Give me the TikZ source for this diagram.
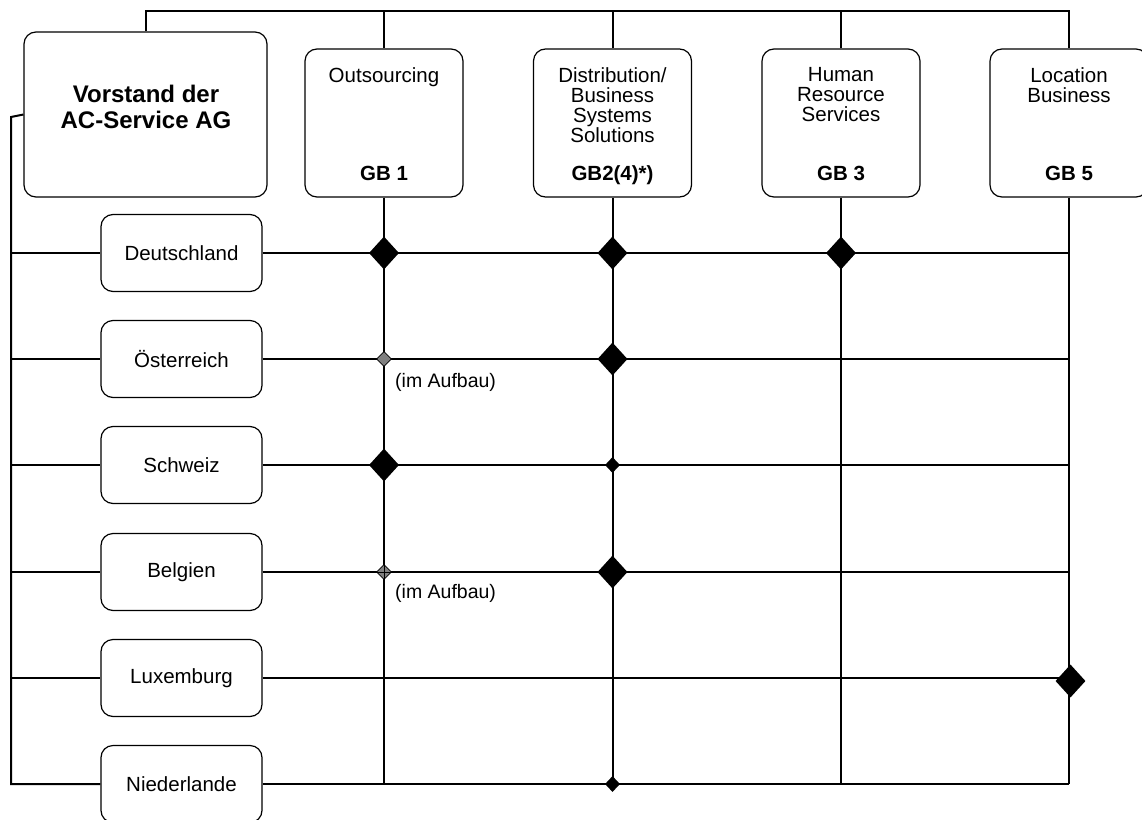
\documentclass[tikz,border=0pt]{standalone}
\usepackage{fontspec}
\setmainfont{Liberation Sans}
\usetikzlibrary{shapes.geometric}
\begin{document}
\begin{tikzpicture}[x=1pt,y=-1pt,
  box/.style={draw, rounded corners=12pt, line width=1.2pt, fill=white, align=center, inner sep=0pt},
  rowbox/.style={box, minimum width=161pt, minimum height=77pt, font=\fontsize{20.5}{20.5}\selectfont},
  colbox/.style={box, minimum width=158pt, minimum height=148pt},
  title/.style={anchor=north, inner sep=0pt, align=center, font=\fontsize{20.5}{20}\selectfont},
  gblabel/.style={anchor=base, inner sep=0pt, font=\fontsize{20.5}{20}\selectfont\bfseries},
  note/.style={anchor=west, inner sep=0pt, font=\fontsize{19.5}{20}\selectfont},
  conn/.style={line width=2pt},
  bigdia/.style={diamond, fill=black, inner sep=0pt, minimum width=30pt, minimum height=33pt},
  smalldia/.style={diamond, fill=black, inner sep=0pt, minimum width=15pt, minimum height=16pt},
  graydia/.style={diamond, fill=black!50, draw=black, line width=0.8pt, inner sep=0pt, minimum width=15pt, minimum height=15pt}]
\useasboundingbox (0,0) rectangle (1142,819);

% boxes
\node[box, minimum width=243pt, minimum height=165pt] (vor) at (145.5,114.5) {};
\node[anchor=center, inner sep=0pt, align=center, font=\fontsize{24}{26.5}\selectfont\bfseries] (vortext) at (146,107) {Vorstand der\\AC-Service AG};

\node[colbox] (c1) at (384,123) {};
\node[colbox] (c2) at (612.5,123) {};
\node[colbox] (c3) at (841,123) {};
\node[colbox] (c4) at (1069,123) {};

\node[title] (t1) at (384,67) {Outsourcing};
\node[title] (t2) at (612.5,67) {Distribution/\\Business\\Systems\\Solutions};
\node[title] (t3) at (841,67) {Human\\Resource\\Services};
\node[title] (t4) at (1069,67) {Location\\Business};

\node[gblabel] (g1) at (384,180) {GB 1};
\node[gblabel] (g2) at (612.5,180) {GB2(4)*)};
\node[gblabel] (g3) at (841,180) {GB 3};
\node[gblabel] (g4) at (1069,180) {GB 5};

\node[rowbox] (r1) at (181.5,253) {Deutschland};
\node[rowbox] (r2) at (181.5,359) {Österreich};
\node[rowbox] (r3) at (181.5,465) {Schweiz};
\node[rowbox] (r4) at (181.5,572) {Belgien};
\node[rowbox] (r5) at (181.5,678) {Luxemburg};
\node[rowbox] (r6) at (181.5,784) {Niederlande};

\coordinate (top) at (0,11);
\coordinate (L) at (11,117);

% top bus
\draw[conn] (vor.north) |- (c4.north |- top) -- (c4.north);
\foreach \c in {c1,c2,c3} \draw[conn] (\c.north) -- (\c.north |- top);

% left bus
\draw[conn] (vor.west) -- (L) |- (r6.west);

% row lines
\foreach \r in {r1,r2,r3,r4,r5} \draw[conn] (\r.west -| L) -- (\r.west);
\foreach \r in {r1,r2,r3,r4,r5,r6} \draw[conn] (\r.east) -- (\r.east -| c4.south);

% column lines
\foreach \c in {c1,c2,c3,c4} \draw[conn] (\c.south) -- (\c.south |- r6.east);

% diamonds
\node[bigdia] (d11) at (c1.south |- r1.east) {};
\node[bigdia] (d21) at (c2.south |- r1.east) {};
\node[bigdia] (d31) at (c3.south |- r1.east) {};
\node[graydia] (d12) at (c1.south |- r2.east) {};
\node[bigdia] (d22) at (c2.south |- r2.east) {};
\node[bigdia] (d13) at (c1.south |- r3.east) {};
\node[smalldia] (d23) at (c2.south |- r3.east) {};
\node[graydia] (d14) at (c1.south |- r4.east) {};
\draw[line width=1pt] (d14.west) -- (d14.east) (d14.north) -- (d14.south);
\node[bigdia] (d24) at (c2.south |- r4.east) {};
\node[bigdia] (d45) at ([xshift=1.5pt,yshift=-3pt]c4.south |- r5.east) {};
\node[smalldia] (d26) at (c2.south |- r6.east) {};

\node[note] (n1) at (395,382) {(im Aufbau)};
\node[note] (n2) at (395,593) {(im Aufbau)};
\end{tikzpicture}
\end{document}
